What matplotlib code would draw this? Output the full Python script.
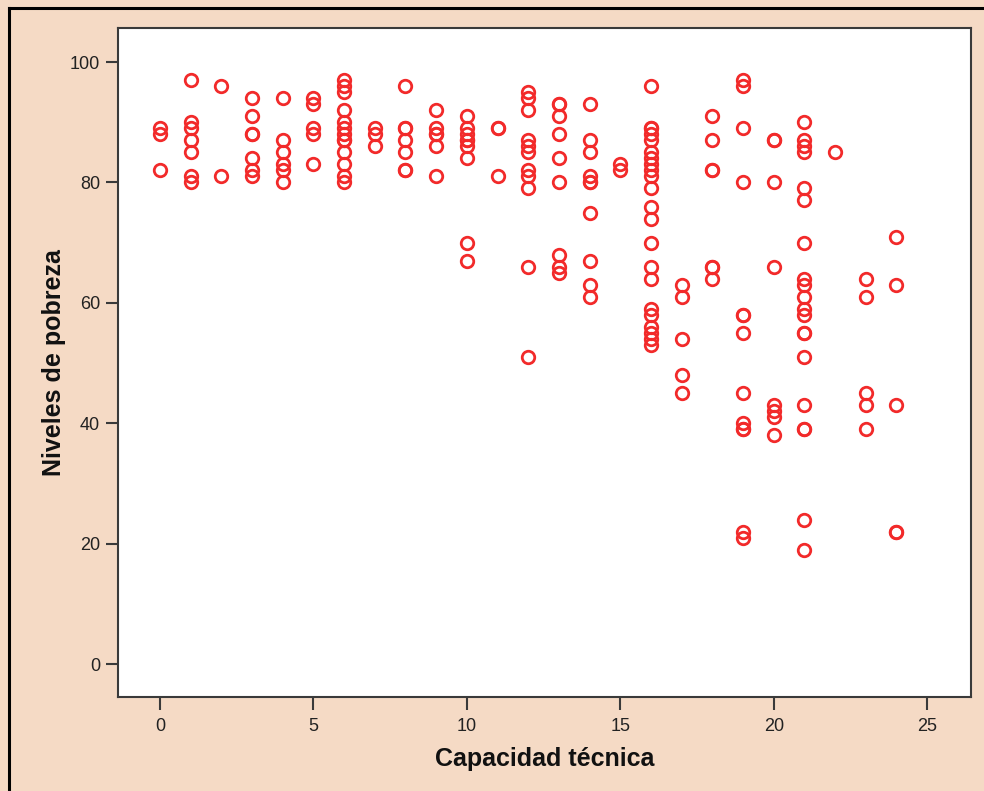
import matplotlib
matplotlib.use('Agg')
import matplotlib.pyplot as plt
from matplotlib.lines import Line2D

plt.rcParams['font.family'] = ['Liberation Sans', 'DejaVu Sans']

# capacidad tecnica -> niveles de pobreza observados
cap_0 = [89, 88, 82]
cap_1 = [97, 90, 89, 87, 85, 81, 80]
cap_2 = [96, 81]
cap_3 = [94, 91, 88, 88, 84, 82, 81]
cap_4 = [94, 87, 85, 83, 82, 80]
cap_5 = [94, 93, 89, 88, 83]
cap_6 = [97, 96, 95, 92, 90, 89, 88, 87, 87, 85, 83, 81, 80]
cap_7 = [89, 88, 86]
cap_8 = [96, 89, 89, 87, 85, 82, 82]
cap_9 = [92, 89, 88, 88, 86, 81]
cap_10 = [91, 89, 88, 87, 87, 86, 84, 70, 67]
cap_11 = [89, 89, 81]
cap_12 = [95, 94, 92, 87, 86, 85, 82, 81, 79, 66, 51]
cap_13 = [93, 93, 91, 88, 84, 80, 68, 66, 65]
cap_14 = [93, 87, 85, 81, 80, 80, 75, 67, 63, 61]
cap_15 = [83, 82]
cap_16 = [96, 89, 89, 88, 87, 85, 84, 83, 82, 81, 79, 76, 74, 70, 66, 64,
          59, 58, 56, 55, 54, 53]
cap_17 = [63, 61, 54, 48, 45]
cap_18 = [91, 87, 82, 82, 66, 66, 64]
cap_19 = [97, 96, 89, 80, 58, 58, 55, 45, 40, 39, 39, 22, 21]
cap_20 = [87, 87, 80, 66, 43, 42, 41, 38]
cap_21 = [90, 87, 86, 85, 79, 77, 70, 64, 63, 61, 59, 58, 55, 55, 51, 43,
          39, 39, 24, 19]
cap_22 = [85]
cap_23 = [64, 61, 45, 43, 39]
cap_24 = [71, 63, 43, 22, 22]

groups = {0: cap_0, 1: cap_1, 2: cap_2, 3: cap_3, 4: cap_4, 5: cap_5,
          6: cap_6, 7: cap_7, 8: cap_8, 9: cap_9, 10: cap_10, 11: cap_11,
          12: cap_12, 13: cap_13, 14: cap_14, 15: cap_15, 16: cap_16,
          17: cap_17, 18: cap_18, 19: cap_19, 20: cap_20, 21: cap_21,
          22: cap_22, 23: cap_23, 24: cap_24}

x = []
y = []
for k, vals in groups.items():
    for v in vals:
        x.append(k)
        y.append(v)

bg = '#f5dac5'
fig = plt.figure(figsize=(9.84, 7.91), dpi=100, facecolor=bg)
ax = fig.add_axes([0.1199, 0.1188, 0.8669, 0.8458])
ax.set_facecolor('white')

ax.plot(x, y, 'o', ls='none', markersize=9, markerfacecolor='none',
        markeredgecolor='#f22a2a', markeredgewidth=2.0)

ax.set_xlim(-1.37, 26.43)
ax.set_ylim(-5.48, 105.65)
ax.set_xticks([0, 5, 10, 15, 20, 25])
ax.set_yticks([0, 20, 40, 60, 80, 100])

for s in ax.spines.values():
    s.set_color('#3a3a3a')
    s.set_linewidth(1.5)
ax.tick_params(direction='out', length=9, width=1.5, color='#3a3a3a',
               labelsize=13, labelcolor='#222222')
ax.tick_params(axis='x', pad=6)
ax.tick_params(axis='y', pad=4)

ax.set_xlabel('Capacidad técnica', fontsize=18, fontweight='bold',
              color='#111111', labelpad=9)
ax.set_ylabel('Niveles de pobreza', fontsize=18, fontweight='bold',
              color='#111111', labelpad=3)

# marco negro arriba e izquierda
fig.add_artist(Line2D([8.5 / 984, 8.5 / 984], [0, 1 - 7.5 / 791],
                      color='black', lw=2.2, transform=fig.transFigure))
fig.add_artist(Line2D([8.5 / 984, 1], [1 - 7.5 / 791, 1 - 7.5 / 791],
                      color='black', lw=2.2, transform=fig.transFigure))

fig.savefig('out.png', dpi=100, facecolor=bg)
